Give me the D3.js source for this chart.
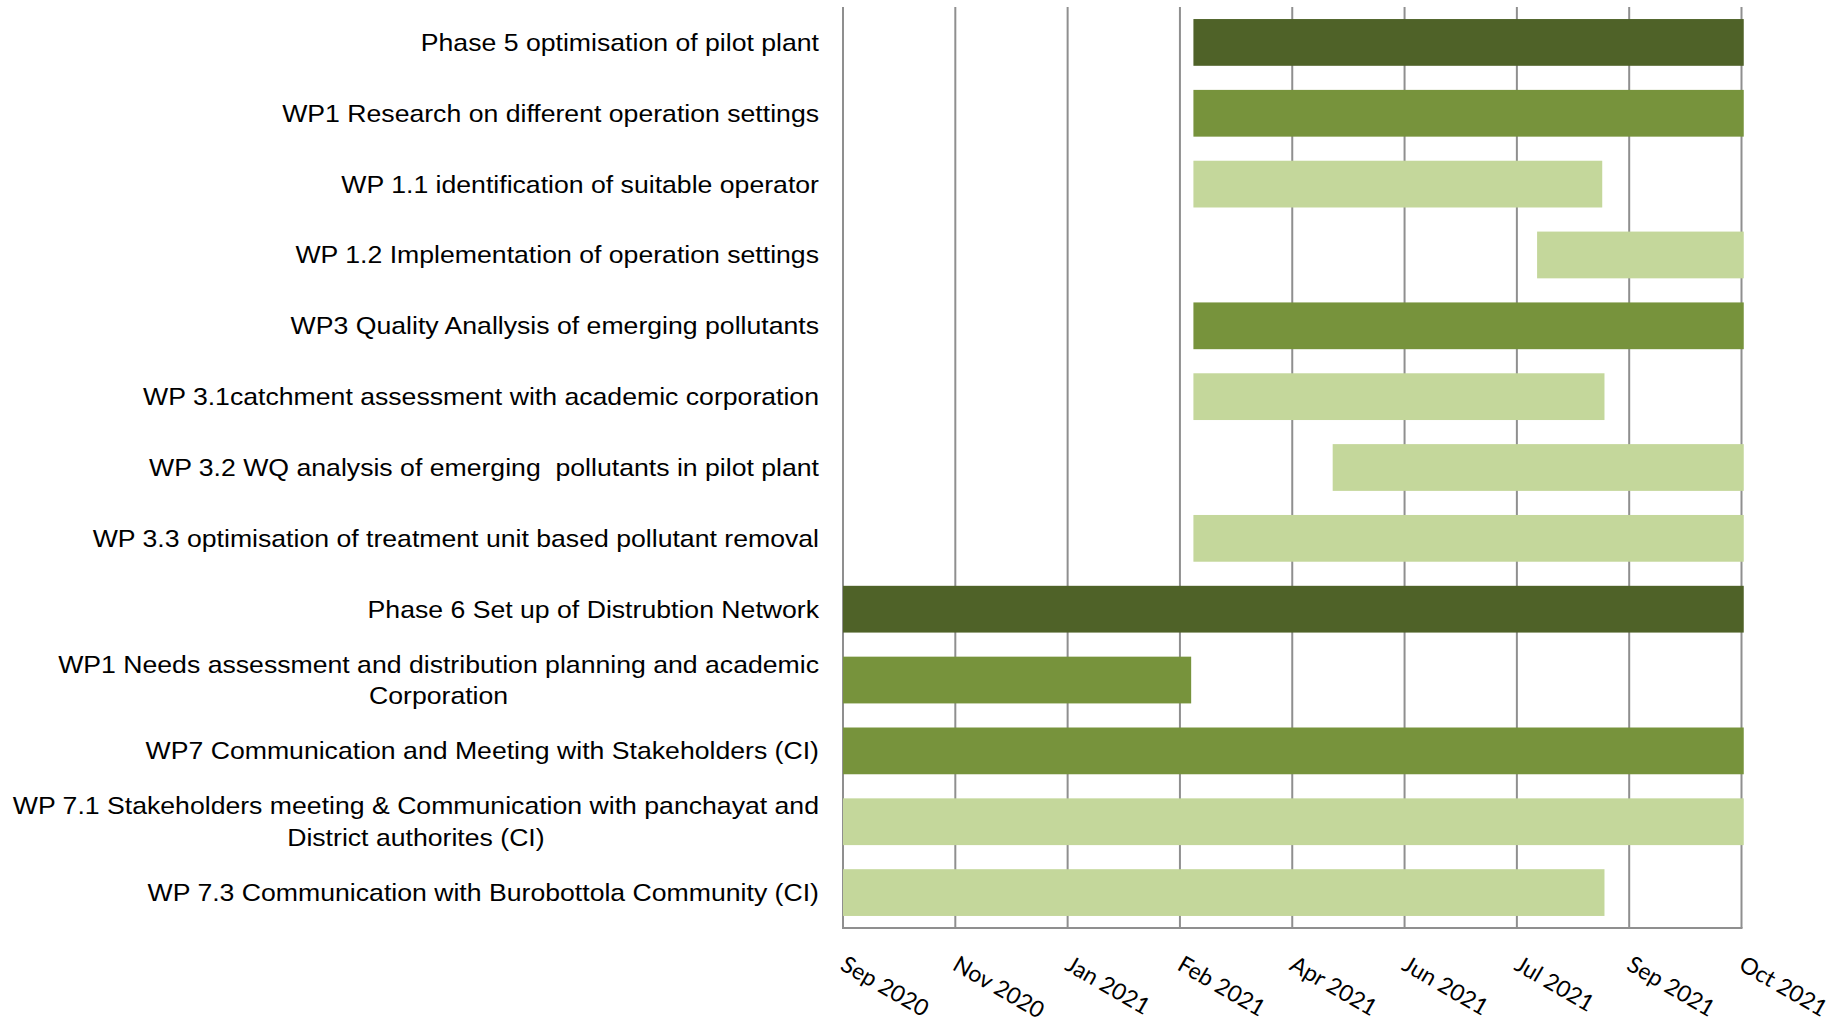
<!DOCTYPE html>
<html>
<head>
<meta charset="utf-8">
<script src="https://cdn.jsdelivr.net/npm/d3@7"></script>
<style>
  body { margin: 0; background: #fff; }
  .label { font-family: "Liberation Sans", Arial, sans-serif; font-size: 24px; fill: #000; white-space: pre; }
  .tick-label { font-family: Lato, "Open Sans", sans-serif; font-size: 23px; fill: #000; }
</style>
</head>
<body>
<svg id="canvas" width="1837" height="1021"></svg>
<script>
// tasks, top to bottom (a line break marks a two-line label)
let tasks = [
  "Phase 5 optimisation of pilot plant",
  "WP1 Research on different operation settings",
  "WP 1.1 identification of suitable operator",
  "WP 1.2 Implementation of operation settings",
  "WP3 Quality Anallysis of emerging pollutants",
  "WP 3.1catchment assessment with academic corporation",
  "WP 3.2 WQ analysis of emerging  pollutants in pilot plant",
  "WP 3.3 optimisation of treatment unit based pollutant removal",
  "Phase 6 Set up of Distrubtion Network",
  "WP1 Needs assessment and distribution planning and academic\nCorporation",
  "WP7 Communication and Meeting with Stakeholders (CI)",
  "WP 7.1 Stakeholders meeting & Communication with panchayat and\nDistrict authorites (CI)",
  "WP 7.3 Communication with Burobottola Community (CI)"
];

let starts = [
  "2021-03-01", "2021-03-01", "2021-03-01", "2021-08-01", "2021-03-01",
  "2021-03-01", "2021-05-02", "2021-03-01", "2020-09-26", "2020-09-26",
  "2020-09-26", "2020-09-26", "2020-09-26"
];

let ends = [
  "2021-11-01", "2021-11-01", "2021-08-30", "2021-11-01", "2021-11-01",
  "2021-08-31", "2021-11-01", "2021-11-01", "2021-11-01", "2021-02-28",
  "2021-11-01", "2021-11-01", "2021-08-31"
];

// 0 = phase, 1 = work package, 2 = sub work package
let levels = [0, 1, 2, 2, 1, 2, 2, 2, 0, 1, 1, 2, 2];

// axis: Excel date axis, 50 day major unit
let axisStart = "2020-09-26";
let axisTicks = [0, 50, 100, 150, 200, 250, 300, 350, 400];

let colors = ["#4f6228", "#77933c", "#c4d79b"];

let parse = d3.timeParse("%Y-%m-%d");
let canvas = d3.select("#canvas");

let plotLeft = 843, plotRight = 1741.5, plotTop = 7, plotBottom = 928;

let t0 = parse(axisStart);
let tickDates = axisTicks.map(d => d3.timeDay.offset(t0, d));

let x = d3.scaleTime()
  .domain([tickDates[0], tickDates[tickDates.length - 1]])
  .range([plotLeft, plotRight]);

let y = d3.scaleBand()
  .domain(tasks)
  .range([plotTop, plotBottom])
  .paddingInner(0.34)
  .paddingOuter(0.17);

// gridlines
canvas.append("g")
  .selectAll("line")
  .data(tickDates)
  .enter()
  .append("line")
  .attr("x1", d => x(d))
  .attr("x2", d => x(d))
  .attr("y1", plotTop)
  .attr("y2", plotBottom)
  .attr("stroke", "#8f8f8f")
  .attr("stroke-width", 2);

// bars
canvas.append("g")
  .selectAll("rect")
  .data(tasks)
  .enter()
  .append("rect")
  .attr("x", (d, i) => x(parse(starts[i])))
  .attr("width", (d, i) => x(parse(ends[i])) - x(parse(starts[i])))
  .attr("y", d => y(d))
  .attr("height", y.bandwidth())
  .attr("fill", (d, i) => colors[levels[i]]);

// bottom axis line
canvas.append("line")
  .attr("x1", plotLeft - 1)
  .attr("x2", plotRight + 1)
  .attr("y1", plotBottom)
  .attr("y2", plotBottom)
  .attr("stroke", "#8f8f8f")
  .attr("stroke-width", 2);

// tick labels, rotated like Excel
let fmt = d3.timeFormat("%b %Y");
canvas.append("g")
  .selectAll("text")
  .data(tickDates)
  .enter()
  .append("text")
  .attr("class", "tick-label")
  .attr("transform", d => "translate(" + (x(d) - 4) + ",969) rotate(30)")
  .text(d => fmt(d));

// task labels: block right-aligned, lines centred inside it
// (the source text is a little stretched sideways)
let labelRight = 819;
let lineGap = 31.5;
let stretch = 1.11;
tasks.forEach((t, i) => {
  let lines = t.split("\n");
  let cy = y(t) + y.bandwidth() / 2;
  let g = canvas.append("g")
    .attr("transform", "translate(" + labelRight + ",0) scale(" + stretch + ",1)");
  let texts = lines.map((l, j) => g.append("text")
    .attr("class", "label")
    .attr("y", cy + (j - (lines.length - 1) / 2) * lineGap)
    .attr("dy", "0.35em")
    .text(l));
  let w = d3.max(texts, s => s.node().getComputedTextLength());
  texts.forEach(s => {
    s.attr("x", -w / 2).attr("text-anchor", "middle");
  });
});
</script>
</body>
</html>
